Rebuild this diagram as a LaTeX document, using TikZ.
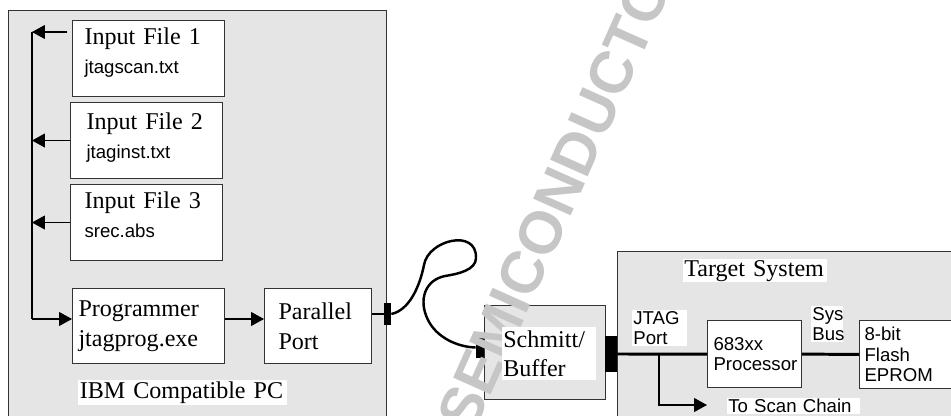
\documentclass[tikz,border=0pt]{standalone}
\usepackage{fontspec}
\setmainfont{Liberation Serif}
\setsansfont{Liberation Sans}
\usetikzlibrary{arrows.meta}
\tikzset{
    frame/.style={draw=black!80, fill=gray!20, line width=0.6pt, anchor=north west, inner sep=0pt},
    unit/.style={draw=black!80, fill=white, line width=0.6pt, anchor=north west, align=left, inner ysep=0pt},
    rmtext/.style={font=\fontsize{13.7}{16.8}\selectfont},
    sftext/.style={font=\sffamily\fontsize{10.6}{11.6}\selectfont},
    tag/.style={fill=white, anchor=north west, align=left, inner sep=0.02cm},
    plug/.style={fill=black, inner sep=0pt},
    flow/.style={line width=0.6pt, -{Triangle[length=0.26cm,width=0.28cm]}},
    bus/.style={line width=1.7pt},
    cable/.style={line width=1.4pt},
    wmark/.style={text=gray!45, font=\sffamily\bfseries\fontsize{34}{34}\selectfont, rotate=66},
}
\newcommand{\sfline}[1]{{\sffamily\fontsize{10.6}{16.8}\selectfont #1}}
\begin{document}
\begin{tikzpicture}[x=0.02cm, y=-0.02cm]
    \useasboundingbox (0,0) rectangle (951,416);
    \clip (0,0) rectangle (951,416);
    % PC side
    \node[frame, minimum width=7.56cm, minimum height=8.4cm] (pc) at (8,10) {};
    \node[unit, rmtext, text width=2.56cm, inner xsep=0.24cm, minimum height=1.52cm] (file1) at (72,20)
        {Input File 1\\\sfline{jtagscan.txt\rule[-0.32cm]{0pt}{0pt}}};
    \node[unit, rmtext, text width=2.4cm, inner xsep=0.32cm, minimum height=1.52cm] (file2) at (70,102)
        {Input File 2\\\sfline{jtaginst.txt\rule[-0.2cm]{0pt}{0pt}}};
    \node[unit, rmtext, text width=2.48cm, inner xsep=0.28cm, minimum height=1.52cm] (file3) at (70,184)
        {Input File 3\\\sfline{srec.abs\rule[-0.32cm]{0pt}{0pt}}};
    \node[unit, rmtext, text width=2.8cm, inner xsep=0.12cm, minimum height=1.5cm] (prog) at (72,288)
        {Programmer\\jtagprog.exe};
    \node[unit, rmtext, text width=1.58cm, inner xsep=0.28cm, minimum height=1.5cm] (port) at (264,288)
        {Parallel\\Port};
    \node[plug, minimum width=0.14cm, minimum height=0.44cm] (pcplug) at (387.5,314) {};
    % buffer and target
    \node[frame, minimum width=2.42cm, minimum height=1.88cm] (schmitt) at (484,305) {};
    \node[plug, minimum width=0.16cm, minimum height=0.42cm] (schmittin) at (480,347.5) {};
    \node[plug, minimum width=0.24cm, minimum height=0.72cm] (schmittout) at (611,354) {};
    \node[frame, minimum width=7.2cm, minimum height=3.8cm] (target) at (617,251) {};
    \node[unit, sftext, text width=1.64cm, inner xsep=0.12cm, minimum height=1.34cm] (proc) at (707,320)
        {683xx\\Processor};
    \node[unit, sftext, text width=2.0cm, inner xsep=0.1cm, minimum height=1.36cm] (flash) at (859,320)
        {8-bit\\Flash\\EPROM};
    % watermark
    \node[wmark] (wm) at (563,183) {SEMICONDUCTOR};
    % labels
    \node[tag, rmtext, text width=4.12cm, inner sep=0.03cm] (pclabel) at (78,380) {IBM Compatible PC};
    \node[tag, rmtext, text width=1.84cm, inner ysep=0.06cm] (bufname) at (502,327) {Schmitt/\\Buffer};
    \node[tag, rmtext, text width=2.84cm] (tgtlabel) at (683,259) {Target System};
    \node[tag, sftext, text width=1.06cm] (jtag) at (632,310) {JTAG\\Port};
    \node[tag, sftext, text width=0.6cm] (sysbus) at (811,306) {Sys\\Bus};
    \node[tag, sftext, text width=2.62cm] (scan) at (727,398) {To Scan Chain};
    % file arrows into the programmer
    \coordinate (bustop) at (32,32);
    \coordinate (busbot) at (32,319);
    \draw[flow, shorten <=0.1cm] (file1.west |- bustop) -- (bustop);
    \draw[flow] (file2.west) -- (file2.west -| bustop);
    \draw[flow] (file3.west) -- (file3.west -| bustop);
    \draw[line width=0.6pt] (bustop) -- (busbot);
    \draw[flow] (busbot) -- (busbot -| prog.west);
    \draw[flow] (prog.east |- busbot) -- (port.west |- busbot);
    \draw[line width=0.6pt] (port.east |- pcplug) -- (pcplug);
    % cable
    \draw[cable] (pcplug.east) .. controls (410,310) and (420,285) .. (424,265)
        .. controls (428,240) and (477,228) .. (476,258)
        .. controls (476,270) and (458,274) .. (445,276)
        .. controls (425,280) and (418,300) .. (428,320)
        .. controls (437,338) and (458,347) .. (schmittin.west);
    % target connections
    \draw[bus] (schmittout) -- (proc);
    \draw[bus] (proc) -- (flash);
    \coordinate (tap) at (659,354);
    \coordinate (scanend) at (707,405);
    \draw[flow] (tap) |- (scanend);
\end{tikzpicture}
\end{document}
